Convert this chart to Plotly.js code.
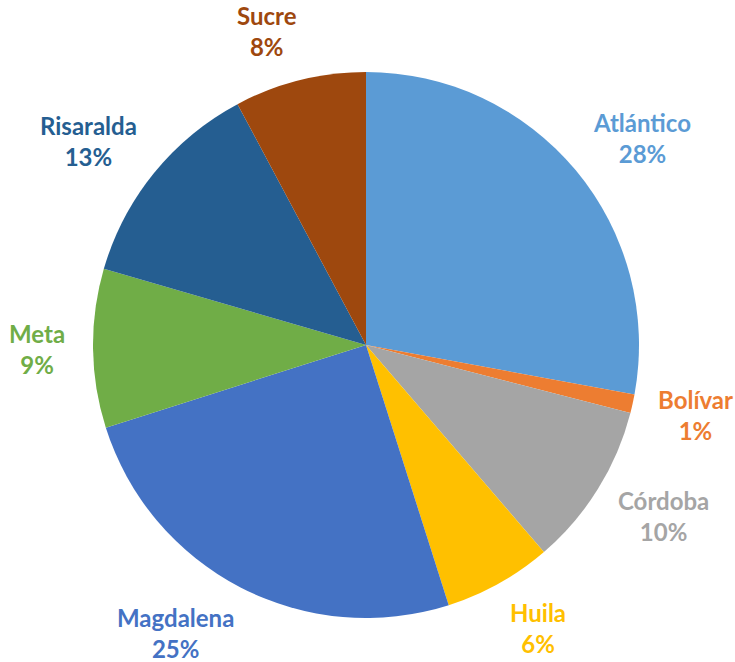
<!DOCTYPE html>
<html>
<head>
<meta charset="utf-8">
<script src="https://cdn.plot.ly/plotly-3.0.1.min.js"></script>
<style>
  html, body { margin: 0; padding: 0; background: #ffffff; }
  #chart { width: 735px; height: 662px; }
</style>
</head>
<body>
<div id="chart"></div>
<script>
// ---- data ----
var departments = ["Atlántico", "Bolívar", "Córdoba", "Huila", "Magdalena", "Meta", "Risaralda", "Sucre"];
var shares = [27.9, 1.1, 9.7, 6.4, 25.0, 9.4, 12.7, 7.8];
var sliceColors = ["#5B9BD5", "#ED7D31", "#A5A5A5", "#FFC000", "#4472C4", "#70AD47", "#255E91", "#9E480E"];

// ---- layout geometry ----
var W = 735, H = 662;
var M = {l: 93, r: 96, t: 72, b: 44};
var pw = W - M.l - M.r, ph = H - M.t - M.b;
var R = Math.min(pw, ph) / 2;
var cx = M.l + pw / 2, cy = M.t + ph / 2;
var fontSize = 24;
var fontFamily = "Lato, 'Open Sans', sans-serif";

var total = shares.reduce(function (a, b) { return a + b; }, 0);

var canvas = document.createElement("canvas");
var ctx = canvas.getContext("2d");
ctx.font = "bold " + fontSize + "px Lato";

var annotations = [];
var cum = 0;
for (var i = 0; i < shares.length; i++) {
  var frac = shares[i] / total;
  var mid = (cum + frac / 2) * 2 * Math.PI;
  cum += frac;
  var pct = Math.round(frac * 100) + "%";
  var tw = Math.max(ctx.measureText(departments[i]).width, ctx.measureText(pct).width);
  var hw = tw / 2;
  var s = Math.sin(mid), c = Math.cos(mid);
  var side = Math.max(-1, Math.min(1, s * 5));
  var px = cx + (R + 32) * s + 0.85 * hw * side;
  var py = cy - (R + 51) * c;
  annotations.push({
    xref: "paper", yref: "paper",
    x: (px - M.l) / pw, y: 1 - (py - M.t) / ph,
    xanchor: "center", yanchor: "middle",
    text: departments[i] + "<br>" + pct,
    showarrow: false,
    align: "center",
    font: {family: fontFamily, size: fontSize, weight: "bold", color: sliceColors[i]}
  });
}

var trace = {
  type: "pie",
  labels: departments,
  values: shares,
  sort: false,
  direction: "clockwise",
  rotation: 0,
  marker: {colors: sliceColors, line: {width: 0}},
  textinfo: "none",
  hoverinfo: "none",
  showlegend: false
};

var layout = {
  width: W, height: H,
  margin: M,
  paper_bgcolor: "#ffffff",
  plot_bgcolor: "#ffffff",
  showlegend: false,
  annotations: annotations
};

Plotly.newPlot("chart", [trace], layout, {displayModeBar: false, staticPlot: true});
</script>
</body>
</html>
